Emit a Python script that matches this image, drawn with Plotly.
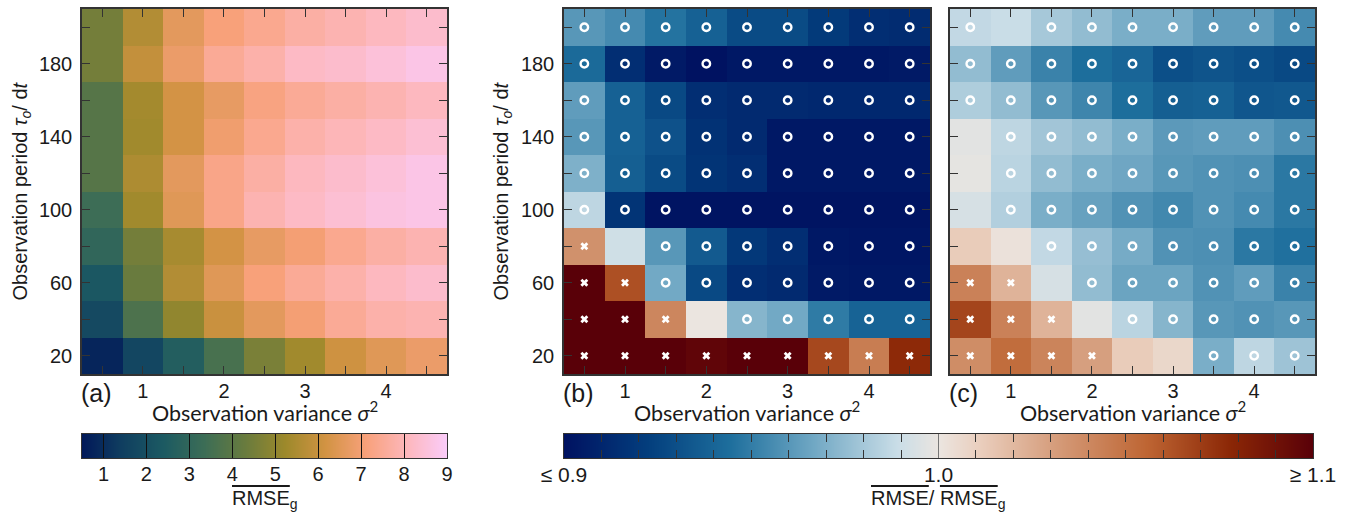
import plotly.graph_objects as go

W, H = 1348, 512

# ---------------- data ----------------
sigma2 = [0.5, 1.0, 1.5, 2.0, 2.5, 3.0, 3.5, 4.0, 4.5]
tau = [20, 40, 60, 80, 100, 120, 140, 160, 180, 200]
x_tick_labels = ["", "1", "", "2", "", "3", "", "4", ""]
y_tick_labels = ["20", "", "60", "", "100", "", "140", "", "180", ""]

# (a) mean RMSE_g, rows: tau = 20 ... 200
rmse_g = [
    [0.8, 1.7, 2.6, 3.6, 4.6, 5.3, 6.1, 6.5, 6.8],
    [1.8, 3.7, 5.0, 6.0, 6.6, 7.0, 7.5, 7.8, 7.9],
    [2.3, 4.3, 5.6, 6.5, 7.1, 7.5, 7.8, 8.1, 8.3],
    [3.0, 4.5, 5.4, 6.2, 6.7, 7.0, 7.4, 7.7, 7.9],
    [3.35, 5.3, 6.5, 7.3, 7.9, 8.2, 8.4, 8.6, 8.7],
    [3.9, 5.5, 6.6, 7.3, 7.7, 8.1, 8.3, 8.5, 8.7],
    [3.9, 5.3, 6.2, 6.9, 7.4, 7.8, 8.0, 8.2, 8.4],
    [3.9, 5.35, 6.2, 6.7, 7.2, 7.5, 7.7, 7.9, 8.1],
    [4.5, 5.9, 6.8, 7.5, 7.8, 8.2, 8.3, 8.5, 8.7],
    [4.5, 5.6, 6.6, 7.1, 7.4, 7.7, 7.9, 8.1, 8.3],
]

# (b) RMSE / RMSE_g
ratio_b = [
    [1.13, 1.13, 1.12, 1.097, 1.105, 1.105, 1.066, 1.045, 1.077],
    [1.12, 1.12, 1.041, 1.0, 0.972, 0.967, 0.949, 0.939, 0.939],
    [1.12, 1.063, 0.967, 0.927, 0.914, 0.912, 0.904, 0.903, 0.903],
    [1.036, 0.991, 0.960, 0.935, 0.919, 0.914, 0.903, 0.902, 0.902],
    [0.986, 0.917, 0.901, 0.901, 0.901, 0.901, 0.901, 0.901, 0.901],
    [0.970, 0.937, 0.928, 0.917, 0.914, 0.903, 0.903, 0.903, 0.903],
    [0.960, 0.938, 0.931, 0.916, 0.912, 0.903, 0.903, 0.903, 0.903],
    [0.962, 0.938, 0.927, 0.914, 0.912, 0.912, 0.911, 0.911, 0.911],
    [0.942, 0.914, 0.904, 0.900, 0.903, 0.903, 0.903, 0.903, 0.904],
    [0.960, 0.955, 0.946, 0.938, 0.928, 0.928, 0.920, 0.914, 0.913],
]
marks_b = [
    ["x", "x", "x", "x", "x", "x", "x", "x", "x"],
    ["x", "x", "x", "", "o", "o", "o", "o", "o"],
    ["x", "x", "o", "o", "o", "o", "o", "o", "o"],
    ["x", "", "o", "o", "o", "o", "o", "o", "o"],
    ["o", "o", "o", "o", "o", "o", "o", "o", "o"],
    ["o", "o", "o", "o", "o", "o", "o", "o", "o"],
    ["o", "o", "o", "o", "o", "o", "o", "o", "o"],
    ["o", "o", "o", "o", "o", "o", "o", "o", "o"],
    ["o", "o", "o", "o", "o", "o", "o", "o", "o"],
    ["o", "o", "o", "o", "o", "o", "o", "o", "o"],
]

# (c) RMSE / RMSE_g
ratio_c = [
    [1.038, 1.052, 1.042, 1.030, 1.012, 1.007, 0.969, 0.986, 0.978],
    [1.067, 1.043, 1.022, 0.997, 0.985, 0.972, 0.960, 0.958, 0.960],
    [1.043, 1.022, 0.993, 0.975, 0.965, 0.965, 0.958, 0.962, 0.952],
    [1.012, 1.002, 0.987, 0.976, 0.968, 0.958, 0.957, 0.948, 0.945],
    [0.993, 0.983, 0.969, 0.964, 0.958, 0.954, 0.958, 0.955, 0.948],
    [0.998, 0.985, 0.975, 0.969, 0.966, 0.960, 0.958, 0.957, 0.948],
    [0.997, 0.986, 0.979, 0.975, 0.969, 0.961, 0.962, 0.962, 0.957],
    [0.982, 0.975, 0.960, 0.953, 0.944, 0.937, 0.938, 0.933, 0.934],
    [0.975, 0.962, 0.952, 0.944, 0.940, 0.930, 0.932, 0.930, 0.927],
    [0.987, 0.989, 0.980, 0.975, 0.969, 0.969, 0.962, 0.962, 0.955],
]
marks_c = [
    ["x", "x", "x", "x", "", "", "o", "o", "o"],
    ["x", "x", "x", "", "o", "o", "o", "o", "o"],
    ["x", "x", "", "o", "o", "o", "o", "o", "o"],
    ["", "", "o", "o", "o", "o", "o", "o", "o"],
    ["", "o", "o", "o", "o", "o", "o", "o", "o"],
    ["", "o", "o", "o", "o", "o", "o", "o", "o"],
    ["", "o", "o", "o", "o", "o", "o", "o", "o"],
    ["o", "o", "o", "o", "o", "o", "o", "o", "o"],
    ["o", "o", "o", "o", "o", "o", "o", "o", "o"],
    ["o", "", "o", "o", "o", "o", "o", "o", "o"],
]

cbar_a_range = [0.5, 9.0]
cbar_a_ticks = [1, 2, 3, 4, 5, 6, 7, 8, 9]
cbar_b_range = [0.9, 1.1]
cbar_b_ticks = [0.9, 1.0, 1.1]
cbar_b_ticktext = ["≤ 0.9", "1.0", "≥ 1.1"]
cbar_b_minor = [0.91, 0.92, 0.93, 0.94, 0.95, 0.96, 0.97, 0.98, 0.99,
                1.01, 1.02, 1.03, 1.04, 1.05, 1.06, 1.07, 1.08, 1.09]

# ---------------- styles ----------------
batlow = [[0.0, "#011959"], [1/9, "#103F60"], [2/9, "#1C5A62"], [3/9, "#3C6D56"],
          [4/9, "#687B3E"], [5/9, "#9D892B"], [6/9, "#D29343"], [7/9, "#F8A17B"],
          [8/9, "#FDB7BC"], [1.0, "#FACCFA"]]
vik = [[0.0, "#001261"], [1/9, "#033E7D"], [2/9, "#1E6F9D"], [3/9, "#71A8C4"],
       [4/9, "#C9DDE7"], [0.5, "#EBE5E0"], [5/9, "#EACEBD"], [6/9, "#D39774"],
       [7/9, "#BE6533"], [8/9, "#8B2706"], [1.0, "#590008"]]

SANS = "Liberation Sans, Arial, Helvetica, sans-serif"
LATO = "Lato, sans-serif"
TXT = "#1a1a1a"
LINE = "#333333"


def fx(p):
    return p / W


def fy(p):
    return 1 - p / H


panels = [(82, 447), (564, 930), (950, 1315)]
top, bottom = 9, 374

fig = go.Figure()

# heatmaps
fig.add_trace(go.Heatmap(x=sigma2, y=tau, z=rmse_g, colorscale=batlow, zmin=0.5, zmax=9,
                         showscale=False, hoverinfo="skip", xaxis="x", yaxis="y"))
fig.add_trace(go.Heatmap(x=sigma2, y=tau, z=ratio_b, colorscale=vik, zmin=0.9, zmax=1.1,
                         showscale=False, hoverinfo="skip", xaxis="x2", yaxis="y2"))
fig.add_trace(go.Heatmap(x=sigma2, y=tau, z=ratio_c, colorscale=vik, zmin=0.9, zmax=1.1,
                         showscale=False, hoverinfo="skip", xaxis="x3", yaxis="y3"))


def add_marks(marks, xa, ya):
    ox, oy, cx, cy = [], [], [], []
    for i, t in enumerate(tau):
        for j, s in enumerate(sigma2):
            if marks[i][j] == "o":
                ox.append(s); oy.append(t)
            elif marks[i][j] == "x":
                cx.append(s); cy.append(t)
    fig.add_trace(go.Scatter(x=ox, y=oy, mode="markers", xaxis=xa, yaxis=ya, hoverinfo="skip",
                             marker=dict(symbol="circle-open", size=7.5, color="white",
                                         line=dict(width=2.4, color="white")),
                             showlegend=False))
    fig.add_trace(go.Scatter(x=cx, y=cy, mode="markers", xaxis=xa, yaxis=ya, hoverinfo="skip",
                             marker=dict(symbol="x", size=7, color="white",
                                         line=dict(width=0)),
                             showlegend=False))


add_marks(marks_b, "x2", "y2")
add_marks(marks_c, "x3", "y3")

# colour keys
fig.add_trace(go.Heatmap(x=cbar_a_range, y=[0, 1], z=[cbar_a_range, cbar_a_range], zsmooth="best",
                         colorscale=batlow, zmin=0.5, zmax=9, showscale=False, hoverinfo="skip",
                         xaxis="x4", yaxis="y4"))
fig.add_trace(go.Heatmap(x=cbar_b_range, y=[0, 1], z=[cbar_b_range, cbar_b_range], zsmooth="best",
                         colorscale=vik, zmin=0.9, zmax=1.1, showscale=False, hoverinfo="skip",
                         xaxis="x5", yaxis="y5"))

layout = dict(
    width=W, height=H, margin=dict(l=0, r=0, t=0, b=0),
    paper_bgcolor="white", plot_bgcolor="white", showlegend=False,
    template="none", hovermode=False,
)

for k, (x0, x1) in enumerate(panels):
    sx = "" if k == 0 else str(k + 1)
    layout["xaxis" + sx] = dict(
        domain=[fx(x0), fx(x1)], range=[0.25, 4.75], tickmode="array",
        tickvals=sigma2, ticktext=x_tick_labels, ticks="inside", ticklen=8, tickwidth=1.3,
        tickcolor=LINE, showline=True, linecolor=LINE, linewidth=1.5, mirror="ticks",
        showgrid=False, zeroline=False, tickfont=dict(family=SANS, size=20, color=TXT),
        ticklabelstandoff=-2, anchor="y" + sx,
    )
    layout["yaxis" + sx] = dict(
        domain=[fy(bottom), fy(top)], range=[10, 210], tickmode="array",
        tickvals=tau, ticktext=y_tick_labels, ticks="inside", ticklen=8, tickwidth=1.3,
        tickcolor=LINE, showline=True, linecolor=LINE, linewidth=1.5, mirror="ticks",
        showgrid=False, zeroline=False, tickfont=dict(family=SANS, size=20, color=TXT),
        showticklabels=(k < 2), ticklabelstandoff=4, anchor="x" + sx,
    )

layout["xaxis4"] = dict(
    domain=[fx(82), fx(447)], range=cbar_a_range, tickmode="array", tickvals=cbar_a_ticks,
    ticks="inside", ticklen=24, tickwidth=1, tickcolor="#111111", showline=True,
    linecolor=LINE, linewidth=1.2, mirror=True, showgrid=False, zeroline=False,
    tickfont=dict(family=SANS, size=20, color=TXT), ticklabelstandoff=-2, anchor="y4",
)
layout["yaxis4"] = dict(domain=[fy(458), fy(434)], range=[0, 1], showticklabels=False,
                        ticks="", showline=True, linecolor=LINE, linewidth=1.2, mirror=True,
                        showgrid=False, zeroline=False, anchor="x4")
layout["xaxis5"] = dict(
    domain=[fx(564), fx(1313)], range=cbar_b_range, tickmode="array", tickvals=cbar_b_ticks,
    ticktext=cbar_b_ticktext, ticks="inside", ticklen=24, tickwidth=1.3, tickcolor="#777777",
    minor=dict(tickmode="array", tickvals=cbar_b_minor, ticks="inside", ticklen=8,
               tickwidth=1, tickcolor="#333333", showgrid=False),
    showline=True, linecolor=LINE, linewidth=1.2, mirror="ticks", showgrid=False,
    zeroline=False, tickfont=dict(family=SANS, size=21, color=TXT), ticklabelstandoff=-2,
    anchor="y5",
)
layout["yaxis5"] = dict(domain=[fy(458), fy(434)], range=[0, 1], showticklabels=False,
                        ticks="", showline=True, linecolor=LINE, linewidth=1.2, mirror=True,
                        showgrid=False, zeroline=False, anchor="x5")

ann = []
ytitle = "Observation period <i>τ</i><sub><i>o</i></sub>/ d<i>t</i>"
xtitle = "Observation variance <i>σ</i><sup>2</sup>"
for k, (x0, x1) in enumerate(panels):
    ann.append(dict(text=xtitle, x=fx((x0 + x1) / 2), y=fy(411), xref="paper", yref="paper",
                    xanchor="center", yanchor="middle", showarrow=False,
                    font=dict(family=LATO, size=21.5, color=TXT)))
    ann.append(dict(text="(" + "abc"[k] + ")", x=fx(x0 - 3), y=fy(393), xref="paper",
                    yref="paper", xanchor="left", yanchor="middle", showarrow=False,
                    font=dict(family=SANS, size=25, color=TXT)))
for xc in (21, 502):
    ann.append(dict(text=ytitle, x=fx(xc), y=fy(191.5), xref="paper", yref="paper",
                    xanchor="center", yanchor="middle", textangle=-90, showarrow=False,
                    font=dict(family=SANS, size=20, color=TXT)))

OL = "<span style='text-decoration:overline'>RMSE</span>"
ann.append(dict(text=OL + "<sub>g</sub>", x=fx(265), y=fy(499), xref="paper", yref="paper",
                xanchor="center", yanchor="middle", showarrow=False,
                font=dict(family=SANS, size=20, color=TXT)))
ann.append(dict(text=OL + "/ " + OL + "<sub>g</sub>", x=fx(938), y=fy(499), xref="paper",
                yref="paper", xanchor="center", yanchor="middle", showarrow=False,
                font=dict(family=SANS, size=20, color=TXT)))
layout["annotations"] = ann

fig.update_layout(**layout)
fig.write_html("out.html", config={"displayModeBar": False})
